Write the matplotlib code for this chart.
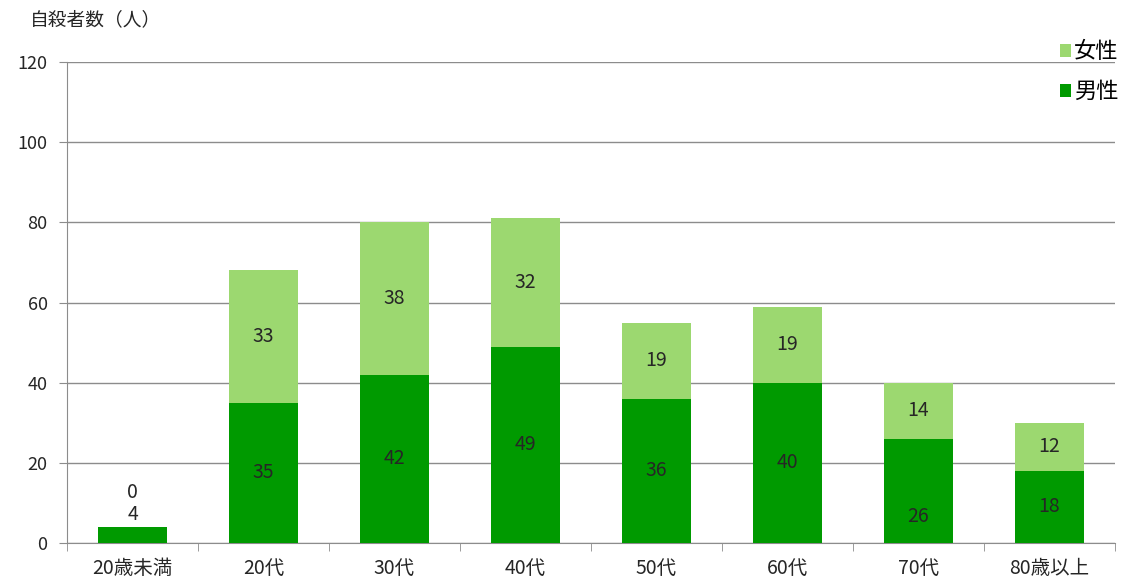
import numpy as np
import matplotlib.pyplot as plt

plt.rcParams['font.family'] = ['Noto Sans CJK JP', 'DejaVu Sans']

# データ
categories = ['20歳未満', '20代', '30代', '40代', '50代', '60代', '70代', '80歳以上']
male = [4, 35, 42, 49, 36, 40, 26, 18]
female = [0, 33, 38, 32, 19, 19, 14, 12]

c_male = '#009A00'
c_female = '#9CD870'
c_text = '#262626'

fig = plt.figure(figsize=(11.33, 5.84), dpi=100)
ax = fig.add_axes([67 / 1133, 1 - 543 / 584, 1048 / 1133, 481 / 584])

x = np.arange(len(categories))
w = 0.52
ax.bar(x, male, w, color=c_male, label='男性', zorder=3)
ax.bar(x, female, w, bottom=male, color=c_female, label='女性', zorder=3)

# ラベル（中央配置、一部は手動でずらす）
for i in range(len(categories)):
    m, f = male[i], female[i]
    ym = m / 2
    yf = m + f / 2
    if i == 0:
        ym, yf = 7, 12.5
    if i == 6:
        ym = 6.5
    ax.text(x[i], ym, str(m), ha='center', va='center', fontsize=14, color=c_text, zorder=4)
    ax.text(x[i], yf, str(f), ha='center', va='center', fontsize=14, color=c_text, zorder=4)

ax.set_xlim(-0.5, len(categories) - 0.5)
ax.set_ylim(0, 120)
ax.set_yticks(np.arange(0, 121, 20))
ax.yaxis.grid(True, color='#8c8c8c', linewidth=1)
ax.set_axisbelow(True)

ax.set_xticks(x)
ax.set_xticklabels(categories, fontsize=14, color=c_text)
ax.set_xticks(np.arange(-0.5, len(categories), 1), minor=True)
ax.tick_params(axis='x', which='major', length=0, pad=11)
ax.tick_params(axis='x', which='minor', length=6, color='#8c8c8c')
ax.tick_params(axis='y', length=6, color='#8c8c8c', labelsize=13, labelcolor=c_text, pad=8)

for s in ['top', 'right']:
    ax.spines[s].set_visible(False)
for s in ['left', 'bottom']:
    ax.spines[s].set_color('#8c8c8c')

fig.text(30 / 1133, 1 - 20 / 584, '自殺者数（人）', fontsize=13.5, color=c_text, va='center', ha='left')

h, l = ax.get_legend_handles_labels()
fig.legend(h[::-1], l[::-1], loc='upper right', bbox_to_anchor=(1.005, 0.965),
           frameon=False, fontsize=16, handlelength=0.5, handleheight=0.5,
           handletextpad=0.15, labelspacing=0.75)

fig.savefig('out.png', dpi=100)
